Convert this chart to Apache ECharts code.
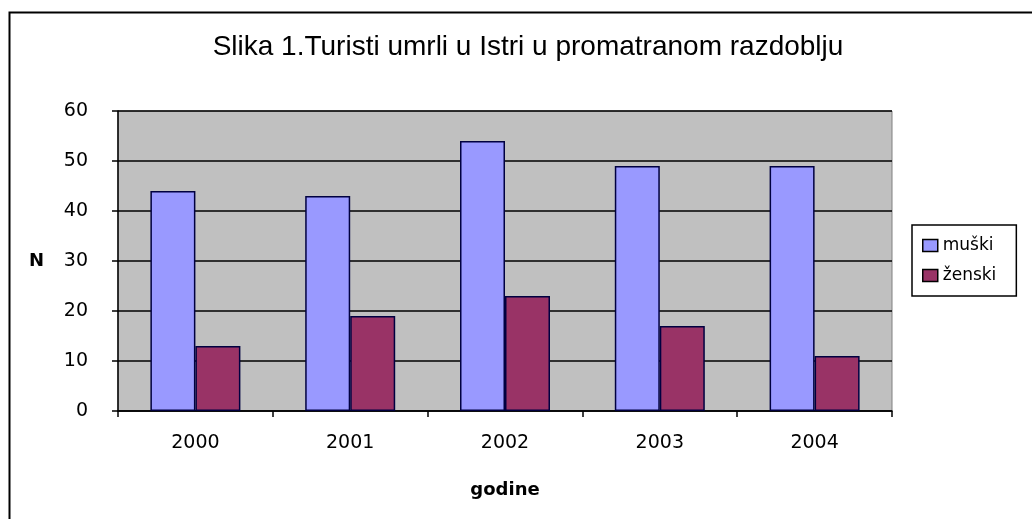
<!DOCTYPE html>
<html><head><meta charset="utf-8">
<script src="https://cdn.jsdelivr.net/npm/echarts@6/dist/echarts.min.js"></script>
<style>html,body{margin:0;padding:0;background:#fff}#c{width:1032px;height:519px}</style>
</head><body><div id="c"></div>
<script>
const categories = ['2000', '2001', '2002', '2003', '2004'];
const muski = [44, 43, 54, 49, 49];
const zenski = [13, 19, 23, 17, 11];
const seriesNames = ['muški', 'ženski'];
const titleText = 'Slika 1.Turisti umrli u Istri u promatranom razdoblju';

const chart = echarts.init(document.getElementById('c'));
const font = 'Liberation Sans, Arial, sans-serif';
const font2 = 'DejaVu Sans, Verdana, sans-serif';
chart.setOption({
  animation: false,
  backgroundColor: '#fff',
  graphic: [{
    type: 'rect', left: 7, top: 10, z: -1,
    shape: { width: 1100, height: 600 },
    style: { fill: 'none', stroke: '#000', lineWidth: 2 }
  }],
  title: {
    text: titleText, left: 523, top: 28, textAlign: 'center',
    textStyle: { fontFamily: font, fontSize: 28, fontWeight: 'normal', color: '#000' }
  },
  legend: {
    orient: 'vertical', left: 912, top: 225, width: 116,
    itemWidth: 15, itemHeight: 12, itemGap: 13,
    padding: [12, 20, 12, 10],
    borderColor: '#000', borderWidth: 1.5,
    icon: 'rect',
    textStyle: { fontFamily: font2, fontSize: 17, color: '#000' },
    itemStyle: { borderColor: '#000', borderWidth: 1.5 },
    data: seriesNames
  },
  grid: { left: 118, right: 140, top: 111, bottom: 108, show: true, backgroundColor: '#C0C0C0', borderColor: '#808080', borderWidth: 1 },
  xAxis: {
    type: 'category', data: categories,
    name: 'godine', nameLocation: 'middle', nameGap: 70,
    nameTextStyle: { fontFamily: font2, fontSize: 18, fontWeight: 'bold', color: '#000' },
    axisLine: { lineStyle: { color: '#000', width: 1.5 } },
    axisTick: { show: true, inside: false, length: 6, lineStyle: { color: '#000', width: 1.5 } },
    axisLabel: { fontFamily: font2, fontSize: 19, color: '#000', margin: 23 }
  },
  yAxis: {
    type: 'value', min: 0, max: 60, interval: 10,
    name: 'N', nameLocation: 'middle', nameGap: 74, nameRotate: 0,
    nameTextStyle: { fontFamily: font2, fontSize: 18, fontWeight: 'bold', color: '#000' },
    axisLine: { show: true, lineStyle: { color: '#000', width: 1.5 } },
    axisTick: { show: true, length: 6, lineStyle: { color: '#000', width: 1.5 } },
    axisLabel: { fontFamily: font2, fontSize: 19, color: '#000', margin: 30 },
    splitLine: { lineStyle: { color: '#000', width: 1.5 } }
  },
  series: [
    { name: seriesNames[0], type: 'bar', data: muski, barWidth: 45, barGap: '0%',
      itemStyle: { color: '#9999FF', borderColor: '#000040', borderWidth: 1.5 } },
    { name: seriesNames[1], type: 'bar', data: zenski, barWidth: 45,
      itemStyle: { color: '#993366', borderColor: '#000040', borderWidth: 1.5 } }
  ]
});
</script></body></html>
